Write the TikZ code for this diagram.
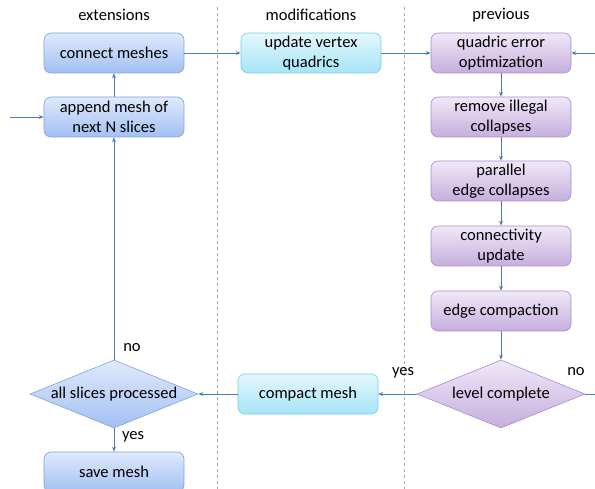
\documentclass[tikz,border=0pt]{standalone}
\usepackage{fontspec}
\setmainfont{Carlito}
\usetikzlibrary{shapes.geometric,arrows.meta}

\definecolor{arrowblue}{HTML}{4A7EBB}
\definecolor{blueline}{HTML}{7EA3DB}
\definecolor{bluetop}{HTML}{DFEAFC}
\definecolor{bluebot}{HTML}{A3C0F2}
\definecolor{cyanline}{HTML}{74D0EA}
\definecolor{cyantop}{HTML}{E4F8FD}
\definecolor{cyanbot}{HTML}{A6E4F7}
\definecolor{purpleline}{HTML}{A88CCB}
\definecolor{purpletop}{HTML}{F0E9F8}
\definecolor{purplebot}{HTML}{C6AEDE}
\definecolor{sepgray}{HTML}{A6A6A6}

\tikzset{
    box/.style={draw, rounded corners=7pt, minimum width=140pt, minimum height=40pt, align=center, inner sep=2pt, line width=0.6pt},
    extbox/.style={box, draw=blueline, top color=bluetop, bottom color=bluebot},
    modbox/.style={box, draw=cyanline, top color=cyantop, bottom color=cyanbot},
    prevbox/.style={box, draw=purpleline, top color=purpletop, bottom color=purplebot},
    decision/.style={diamond, draw, aspect=2.5, inner sep=0pt, minimum width=168pt, minimum height=68pt, line width=0.6pt},
    flow/.style={draw=arrowblue, line width=0.8pt},
}

\begin{document}
\begin{tikzpicture}[x=1pt, y=-1pt, font=\fontsize{16.5}{19.5}\selectfont, >={Stealth[length=5pt,width=4pt]}]
        \useasboundingbox (0, 0) rectangle (595, 489);
        % columns
        \draw[sepgray, dashed, line width=0.8pt] (217, 7) -- (217, 489);
        \draw[sepgray, dashed, line width=0.8pt] (404, 7) -- (404, 489);
        \path (114, 15) node(hext) {extensions} (311, 15) node(hmod) {modifications} (501, 15) node(hprev) {previous};
        % extensions
        \path (114, 53) node[extbox](connect) {connect meshes}
              (114, 117) node[extbox](append) {append mesh of\\next N slices}
              (114, 394) node[decision, draw=blueline, top color=bluetop, bottom color=bluebot](allproc) {all slices processed}
              (114, 472) node[extbox](save) {save mesh};
        % modifications
        \path (311, 53) node[modbox](update) {update vertex\\quadrics}
              (308, 394) node[modbox](compact) {compact mesh};
        % previous
        \path (501, 53) node[prevbox](qeo) {quadric error\\optimization}
              (501, 117) node[prevbox](remove) {remove illegal\\collapses}
              (501, 181) node[prevbox](parallel) {parallel\\edge collapses}
              (501, 246) node[prevbox](conn) {connectivity\\update}
              (501, 311) node[prevbox](edgecomp) {edge compaction}
              (501, 394) node[decision, draw=purpleline, top color=purpletop, bottom color=purplebot](level) {level complete};
        \coordinate (inleft) at (10, 117);
        \coordinate (inright) at (595, 53);
        \coordinate (outright) at (595, 394);
        % arrows
        \draw[flow, ->] (inleft) -- (append);
        \draw[flow, ->] (append) -- (connect);
        \draw[flow, ->] (connect) -- (update);
        \draw[flow, ->] (update) -- (qeo);
        \draw[flow, ->] (inright) -- (qeo);
        \draw[flow, ->] (qeo) -- (remove);
        \draw[flow, ->] (remove) -- (parallel);
        \draw[flow, ->] (parallel) -- (conn);
        \draw[flow, ->] (conn) -- (edgecomp);
        \draw[flow, ->] (edgecomp) -- (level);
        \draw[flow] (level.east) -- (outright);
        \draw[flow, ->] (level.west) -- (compact);
        \draw[flow, ->] (compact) -- (allproc.east);
        \draw[flow, ->] (allproc.north) -- (append);
        \draw[flow, ->] (allproc.south) -- (save);
        \path (132, 348) node(no1) {no} (133, 437) node(yes1) {yes}
              (403, 373) node(yes2) {yes} (576, 372) node(no2) {no};
    \end{tikzpicture}
\end{document}
